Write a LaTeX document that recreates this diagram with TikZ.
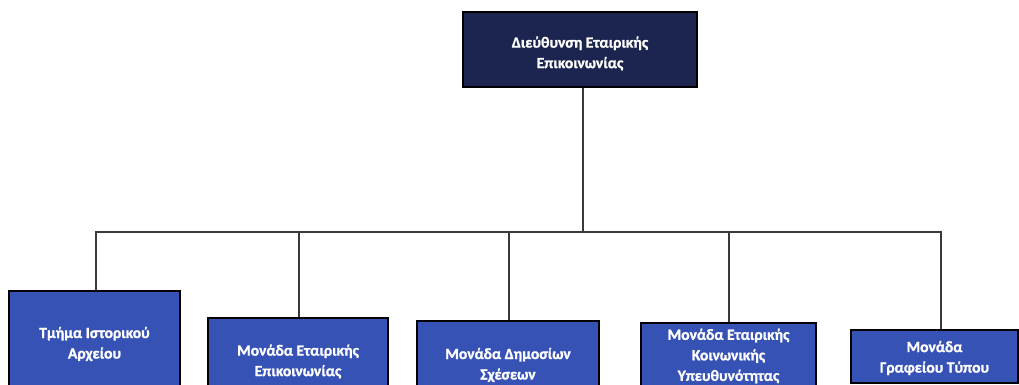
\documentclass[tikz,border=0pt]{standalone}
\usepackage{fontspec}
\setmainfont{Carlito-Regular.ttf}[BoldFont=Carlito-Bold.ttf,BoldFeatures={FakeBold=1.2}]
\definecolor{navy}{HTML}{1B2550}
\definecolor{royal}{HTML}{3652B5}
\definecolor{linegray}{HTML}{3A3A3A}
\begin{document}
\begin{tikzpicture}[x=1pt,y=-1pt,
  box/.style={draw=black,line width=1.6pt,align=center,text=white,inner sep=0pt,
    font=\fontsize{15.6}{20.5}\selectfont\bfseries},
  topbox/.style={box,fill=navy},
  unitbox/.style={box,fill=royal},
  conn/.style={draw=linegray,line width=1.1pt}]
\useasboundingbox (0,0) rectangle (1019,385);
\clip (0,0) rectangle (1019,385);
\node[topbox,minimum width=234pt,minimum height=75pt] (top) at (580,49.5) {};
\node[text=white,font=\fontsize{15.6}{20.5}\selectfont\bfseries,align=center,inner sep=0pt] (toptext) at (580,53.5) {Διεύθυνση Εταιρικής\\Επικοινωνίας};
\node[unitbox,minimum width=171pt,minimum height=104pt] (b1) at (94.5,343) {};
\node[text=white,font=\fontsize{15.6}{20.5}\selectfont\bfseries,align=center,inner sep=0pt] (b1text) at (94.5,344) {Τμήμα Ιστορικού\\Αρχείου};
\node[unitbox,minimum width=180pt,minimum height=87pt] (b2) at (298,361.5) {Μονάδα Εταιρικής\\Επικοινωνίας};
\node[unitbox,minimum width=182pt,minimum height=88pt] (b3) at (508,365) {Μονάδα Δημοσίων\\Σχέσεων};
\node[unitbox,minimum width=175pt,minimum height=66pt] (b4) at (728.5,356) {Μονάδα Εταιρικής\\Κοινωνικής\\Υπευθυνότητας};
\node[unitbox,minimum width=167pt,minimum height=53pt] (b5) at (934.5,356.5) {};
\node[text=white,font=\fontsize{15.6}{20.5}\selectfont\bfseries,align=center,inner sep=0pt] (b5text) at (934.5,358) {Μονάδα\\Γραφείου Τύπου};
\coordinate (j) at (583,232);
\draw[conn] ([xshift=3pt]top.south) -- (j);
\draw[conn] (j) -| ([xshift=1.5pt]b1.north);
\draw[conn] (j) -| ([xshift=1pt]b2.north);
\draw[conn] (j) -| ([xshift=1pt]b3.north);
\draw[conn] (j) -| ([xshift=0.5pt]b4.north);
\draw[conn] (j) -| ([xshift=6.5pt]b5.north);
\end{tikzpicture}
\end{document}
